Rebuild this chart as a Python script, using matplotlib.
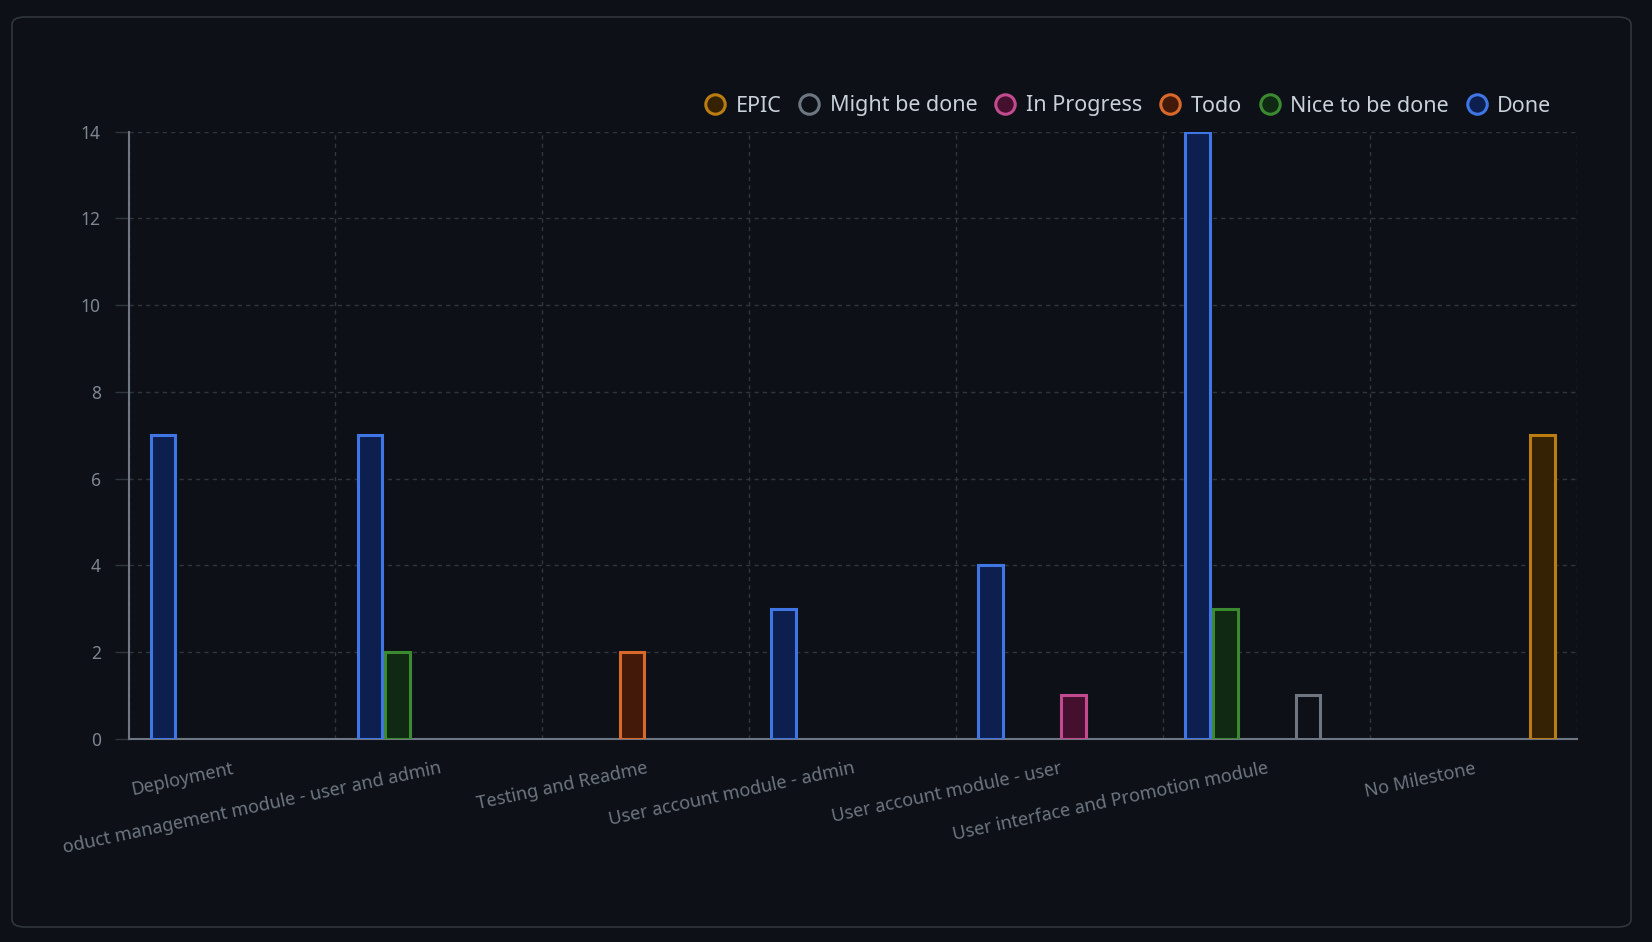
import numpy as np
import matplotlib.pyplot as plt
from matplotlib.patches import FancyBboxPatch
from matplotlib.lines import Line2D

plt.rcParams['font.family'] = ['Noto Sans', 'DejaVu Sans']

milestones = ['Deployment', 'oduct management module - user and admin', 'Testing and Readme',
              'User account module - admin', 'User account module - user',
              'User interface and Promotion module', 'No Milestone']

# series in bar order (left to right inside a group)
series = ['Done', 'Nice to be done', 'Todo', 'In Progress', 'Might be done', 'EPIC']
done = [7, 7, 0, 3, 4, 14, 0]
nice = [0, 2, 0, 0, 0, 3, 0]
todo = [0, 0, 2, 0, 0, 0, 0]
in_progress = [0, 0, 0, 0, 1, 0, 0]
might = [0, 0, 0, 0, 0, 1, 0]
epic = [0, 0, 0, 0, 0, 0, 7]
values = [done, nice, todo, in_progress, might, epic]

edges = ['#3f76e4', '#3b8a31', '#d8692a', '#c24b8f', '#6e7681', '#bb7d12']
fills = ['#0c1f4f', '#102912', '#431a09', '#45102e', '#0d1117', '#352204']

legend_order = ['EPIC', 'Might be done', 'In Progress', 'Todo', 'Nice to be done', 'Done']

bg = '#0d1117'
grid_c = '#30363d'
txt_c = '#7d8590'

fig = plt.figure(figsize=(16.52, 9.42), dpi=100, facecolor=bg)
fig.patches.append(FancyBboxPatch((12 / 1652, 1 - 927 / 942), 1619 / 1652, 910 / 942,
                                  boxstyle='round,pad=0,rounding_size=0.008',
                                  transform=fig.transFigure, facecolor='none',
                                  edgecolor=grid_c, linewidth=1.2))

ax = fig.add_axes([128.5 / 1652, 203.4 / 942, (1577 - 128.5) / 1652, (738.6 - 131.7) / 942])
ax.set_facecolor(bg)

x = np.arange(len(milestones))
n = len(series)
slot = 0.8 / n
bw = slot * 0.9
for i, name in enumerate(series):
    v = np.array(values[i])
    m = v > 0
    ax.bar(x[m] - 0.4 + slot * (i + 0.5), v[m], width=bw, color=fills[i],
           edgecolor=edges[i], linewidth=2.2, zorder=3)

ax.set_xlim(-0.5, len(milestones) - 0.5)
ax.set_ylim(0, 14)
ax.set_yticks(range(0, 15, 2))
ax.set_xticks(x)
ax.set_xticklabels(milestones, rotation=12, ha='right', rotation_mode='anchor',
                   fontsize=13, color='#6e7681')
ax.set_xticks(np.arange(-0.5, len(milestones)), minor=True)

ax.tick_params(axis='y', colors=grid_c, labelcolor=txt_c, labelsize=12.5,
               length=10, width=1, pad=10)
ax.tick_params(axis='x', which='major', length=0, pad=15)
ax.tick_params(axis='x', which='minor', length=0)

ax.grid(axis='y', color=grid_c, linestyle=(0, (3, 3)), linewidth=1, zorder=0)
ax.grid(axis='x', which='minor', color=grid_c, linestyle=(0, (3, 3)), linewidth=1, zorder=0)

for s in ['top', 'right']:
    ax.spines[s].set_visible(False)
for s in ['left', 'bottom']:
    ax.spines[s].set_color('#6e7681')
    ax.spines[s].set_linewidth(1.5)

handles = []
for name in legend_order:
    k = series.index(name)
    handles.append(Line2D([], [], linestyle='none', marker='o', markersize=14,
                          markerfacecolor=fills[k], markeredgecolor=edges[k],
                          markeredgewidth=2.2, label=name))
fig.legend(handles=handles, loc='center right', bbox_to_anchor=(1560 / 1652, 1 - 106 / 942),
           ncol=6, frameon=False, fontsize=15.5, labelcolor='#c9d1d9',
           handletextpad=0.35, columnspacing=0.7, handlelength=1.2, borderaxespad=0)

fig.savefig('out.png', dpi=100, facecolor=bg)
